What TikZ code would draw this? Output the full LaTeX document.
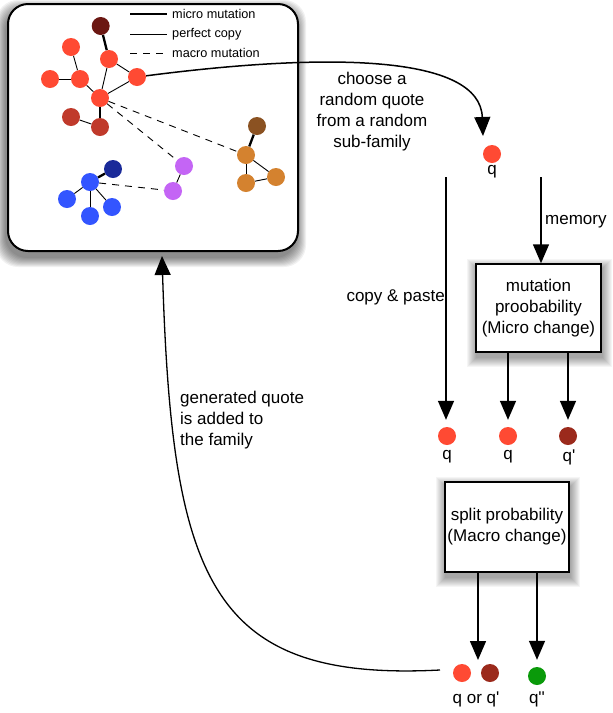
\documentclass[tikz,border=0pt]{standalone}
\usepackage{fontspec}
\setmainfont{Liberation Sans}
\usetikzlibrary{arrows.meta}
\definecolor{cred}{HTML}{FF4A33}
\definecolor{cdark}{HTML}{6B1712}
\definecolor{cbrick}{HTML}{C03A2B}
\definecolor{cqp}{HTML}{9B2A1C}
\definecolor{cbrown}{HTML}{8B5222}
\definecolor{corange}{HTML}{D4822F}
\definecolor{cpurple}{HTML}{C465F5}
\definecolor{cnavy}{HTML}{1A2A99}
\definecolor{cblue}{HTML}{3355FF}
\definecolor{cgreen}{HTML}{0A9A0A}
\begin{document}
\begin{tikzpicture}[x=1pt,y=-1pt,
  dot/.style={circle,inner sep=0pt,minimum size=18pt},
  tedge/.style={line width=0.9pt},
  micro/.style={line width=2.3pt},
  macro/.style={line width=0.9pt,dash pattern=on 7pt off 6pt},
  lbl/.style={font=\fontsize{17}{21}\selectfont, align=center, inner sep=0pt},
  leg/.style={font=\fontsize{12.7}{15}\selectfont, anchor=west, inner sep=0pt},
  arr/.style={line width=1.5pt,-{Triangle[length=19pt,width=16pt]}},
  procbox/.style={draw, line width=1.5pt, fill=white, align=center, inner sep=0pt,
     font=\fontsize{17}{21}\selectfont}]
\useasboundingbox (0,0) rectangle (613,713);
\fill[white] (0,0) rectangle (613,713);

% soft shadows
\foreach \i in {1,...,10}{
  \fill[black,opacity=0.055,rounded corners=22pt] (8-\i-2,4-\i+6) rectangle (298+\i-2,251+\i+6);
  \fill[black,opacity=0.04] (476-\i+1,264-\i+5) rectangle (601+\i+1,352+\i+5);
  \fill[black,opacity=0.04] (445-\i+1,482-\i+5) rectangle (569+\i+1,572+\i+5);
}

% family box
\node[draw, line width=2pt, fill=white, rounded corners=20pt, minimum width=290pt,
      minimum height=247pt, inner sep=0pt] (family) at (153,127.5) {};

% legend
\coordinate (l1a) at (130,14); \coordinate (l1b) at (167,14);
\coordinate (l2a) at (130,34); \coordinate (l2b) at (167,34);
\coordinate (l3a) at (130,53); \coordinate (l3b) at (167,53);
\draw[micro] (l1a) -- (l1b);
\draw[tedge] (l2a) -- (l2b);
\draw[macro] (l3a) -- (l3b);
\node[leg] (t1) at (172,14) {micro mutation};
\node[leg] (t2) at (172,34) {perfect copy};
\node[leg] (t3) at (172,53) {macro mutation};

% network nodes
\node[dot,fill=cdark]   (n1)  at (100.7,26) {};
\node[dot,fill=cred]    (n2)  at (109,59) {};
\node[dot,fill=cred]    (n3)  at (71,47) {};
\node[dot,fill=cred]    (n4)  at (50,79) {};
\node[dot,fill=cred]    (n5)  at (80,79) {};
\node[dot,fill=cred]    (n6)  at (137,77) {};
\node[dot,fill=cred]    (n7)  at (100,98) {};
\node[dot,fill=cbrick]  (n8)  at (71,117) {};
\node[dot,fill=cbrick]  (n9)  at (100,127) {};
\node[dot,fill=cbrown]  (n10) at (257,126) {};
\node[dot,fill=corange] (n11) at (246,155) {};
\node[dot,fill=corange] (n12) at (246,183) {};
\node[dot,fill=corange] (n13) at (276,177) {};
\node[dot,fill=cpurple] (n14) at (184,166) {};
\node[dot,fill=cpurple] (n15) at (173,191) {};
\node[dot,fill=cnavy]   (n16) at (113,169) {};
\node[dot,fill=cblue]   (n17) at (90,182) {};
\node[dot,fill=cblue]   (n18) at (67,199) {};
\node[dot,fill=cblue]   (n19) at (90,216) {};
\node[dot,fill=cblue]   (n20) at (112,207) {};

\draw[micro] (n1) -- (n2);
\draw[tedge] (n2) -- (n7);
\draw[tedge] (n2) -- (n6);
\draw[tedge] (n7) -- (n6);
\draw[tedge] (n3) -- (n5);
\draw[tedge] (n4) -- (n5);
\draw[tedge] (n5) -- (n7);
\draw[micro] (n7) -- (n9);
\draw[tedge] (n8) -- (n9);
\draw[macro] (n7) -- (n11);
\draw[macro] (n7) -- (n14);
\draw[tedge] (n14) -- (n15);
\draw[micro] (n10) -- (n11);
\draw[tedge] (n11) -- (n12);
\draw[tedge] (n11) -- (n13);
\draw[tedge] (n12) -- (n13);
\draw[micro] (n17) -- (n16);
\draw[tedge] (n17) -- (n18);
\draw[tedge] (n17) -- (n19);
\draw[tedge] (n17) -- (n20);
\draw[macro] (n17) -- (n15);

% chosen quote
\node[dot,fill=cred] (q) at (492,154) {};
\node[lbl] (ql) at (492,172) {q};
\coordinate (qin) at (483,136);
\draw[arr] (n6) .. controls (330,52) and (480,55) .. (qin);
\node[lbl] (choose) at (372,112) {choose a\\random quote\\from a random\\sub-family};

% mutation box
\node[procbox, minimum width=125pt, minimum height=88pt] (mut) at (538.5,308)
  {mutation\\proobability\\(Micro change)};
\coordinate (memtop) at (541,177);
\draw[arr] (memtop) -- (memtop |- mut.north);
\node[lbl, anchor=west] (mem) at (545,222) {memory};

% dots row 1
\node[dot,fill=cred] (d1) at (447,436) {};
\node[dot,fill=cred] (d2) at (508,436) {};
\node[dot,fill=cqp]  (d3) at (568,436) {};
\node[lbl] (dl1) at (447,457) {q};
\node[lbl] (dl2) at (508,457) {q};
\node[lbl] (dl3) at (569,457) {q\textquotesingle};

\coordinate (cptop) at (446,177);
\draw[arr, shorten >=7pt] (cptop) -- (cptop |- d1.north);
\node[lbl, anchor=east] (cp) at (445,297) {copy \& paste};
\draw[arr, shorten >=7pt] (d2 |- mut.south) -- (d2);
\draw[arr, shorten >=7pt] (d3 |- mut.south) -- (d3);

% split box
\node[procbox, minimum width=124pt, minimum height=90pt] (split) at (507,527)
  {split probability\\(Macro change)};
\node[dot,fill=cred]   (e1) at (462,673) {};
\node[dot,fill=cqp]    (e2) at (490,673) {};
\node[dot,fill=cgreen] (e3) at (537,676) {};
\coordinate (s1) at (478,660);
\draw[arr] (s1 |- split.south) -- (s1);
\draw[arr, shorten >=7pt] (e3 |- split.south) -- (e3);
\node[lbl] (el1) at (476,699) {q or q\textquotesingle};
\node[lbl] (el2) at (537,699) {q\textquotesingle\textquotesingle};

% back to family
\coordinate (fin) at (162,256);
\coordinate (start) at (440,670);
\draw[line width=1.3pt,-{Triangle[length=19pt,width=16pt]}] (start) .. controls (210,682) and (172,580) .. (fin);
\node[lbl, align=left, anchor=west] (gen) at (180,420) {generated quote\\is added to\\the family};
\end{tikzpicture}
\end{document}
